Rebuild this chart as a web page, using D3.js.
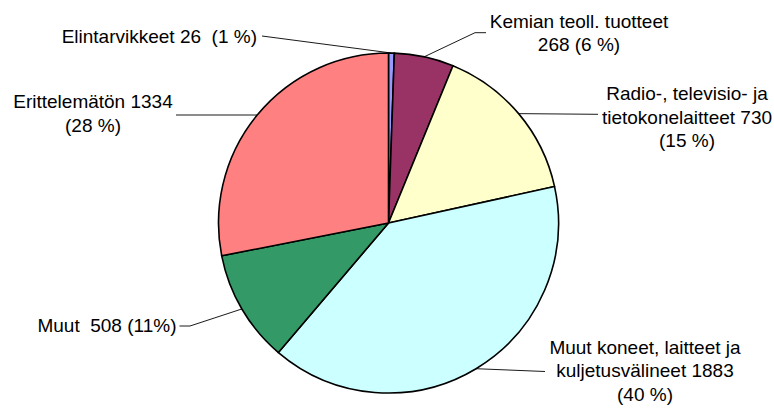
<!DOCTYPE html>
<html>
<head>
<meta charset="utf-8">
<script src="https://cdn.jsdelivr.net/npm/d3@7"></script>
<style>
    body { margin: 0; background: #fff; }
    text { font-family: "Liberation Sans", Arial, sans-serif; font-size: 19px; fill: #000; white-space: pre; }
</style>
</head>
<body>
<script>
// data
const categories = ["Elintarvikkeet", "Kemian teoll. tuotteet", "Radio-, televisio- ja tietokonelaitteet",
    "Muut koneet, laitteet ja kuljetusvälineet", "Muut", "Erittelemätön"]
const values = [26, 268, 730, 1883, 508, 1334]
const labelLines = [
    ["Elintarvikkeet 26  (1 %)"],
    ["Kemian teoll. tuotteet", "268 (6 %)"],
    ["Radio-, televisio- ja", "tietokonelaitteet 730", "(15 %)"],
    ["Muut koneet, laitteet ja", "kuljetusvälineet 1883", "(40 %)"],
    ["Muut  508 (11%)"],
    ["Erittelemätön 1334", "(28 %)"]
]
const colors = ["#9999FF", "#993366", "#FFFFCC", "#CCFFFF", "#339966", "#FF8080"]

// label layout: text anchor point, first baseline, and where the leader line starts
const labelLayout = [
    { x: 257, y: 42.5, anchor: "end", lead: [[262, 36]] },
    { x: 579, y: 27.5, anchor: "middle", lead: [[486, 32.7], [475, 32.7]] },
    { x: 687, y: 100, anchor: "middle", lead: [[598, 114.3]] },
    { x: 645, y: 353.5, anchor: "middle", lead: [[545, 371.5]] },
    { x: 176.5, y: 331.5, anchor: "end", lead: [[179.5, 326], [190, 326]] },
    { x: 93, y: 108, anchor: "middle", lead: [[176, 115]] }
]

const width = 774,
    height = 408,
    cx = 388.5,
    cy = 223,
    radius = 170,
    lineHeight = 23.5

let svg = d3.select("body")
    .append("svg")
    .attr("width", width)
    .attr("height", height)

let pie = d3.pie().sort(null).value(d => d)
let arcs = pie(values)

let arc = d3.arc().innerRadius(0).outerRadius(radius)
let edgeArc = d3.arc().innerRadius(radius).outerRadius(radius)

let g = svg.append("g")
    .attr("transform", `translate(${cx},${cy})`)

g.selectAll("path.slice")
    .data(arcs)
    .join("path")
    .attr("class", "slice")
    .attr("d", arc)
    .attr("fill", (d, i) => colors[i])
    .attr("stroke", "#000")
    .attr("stroke-width", 1.6)
    .attr("stroke-linejoin", "round")

// leader lines from label to the slice edge
svg.selectAll("path.leader")
    .data(arcs)
    .join("path")
    .attr("class", "leader")
    .attr("d", (d, i) => {
        let c = edgeArc.centroid(d)
        let pts = labelLayout[i].lead.concat([[cx + c[0], cy + c[1]]])
        return d3.line()(pts)
    })
    .attr("fill", "none")
    .attr("stroke", "#000")
    .attr("stroke-width", 0.9)

// labels
let labels = svg.selectAll("text.label")
    .data(labelLines)
    .join("text")
    .attr("class", "label")
    .attr("xml:space", "preserve")
    .attr("text-anchor", (d, i) => labelLayout[i].anchor)

labels.selectAll("tspan")
    .data((d, i) => d.map((t, j) => ({ t: t, j: j, i: i })))
    .join("tspan")
    .attr("x", d => labelLayout[d.i].x)
    .attr("y", d => labelLayout[d.i].y + d.j * lineHeight)
    .text(d => d.t)
</script>
</body>
</html>
